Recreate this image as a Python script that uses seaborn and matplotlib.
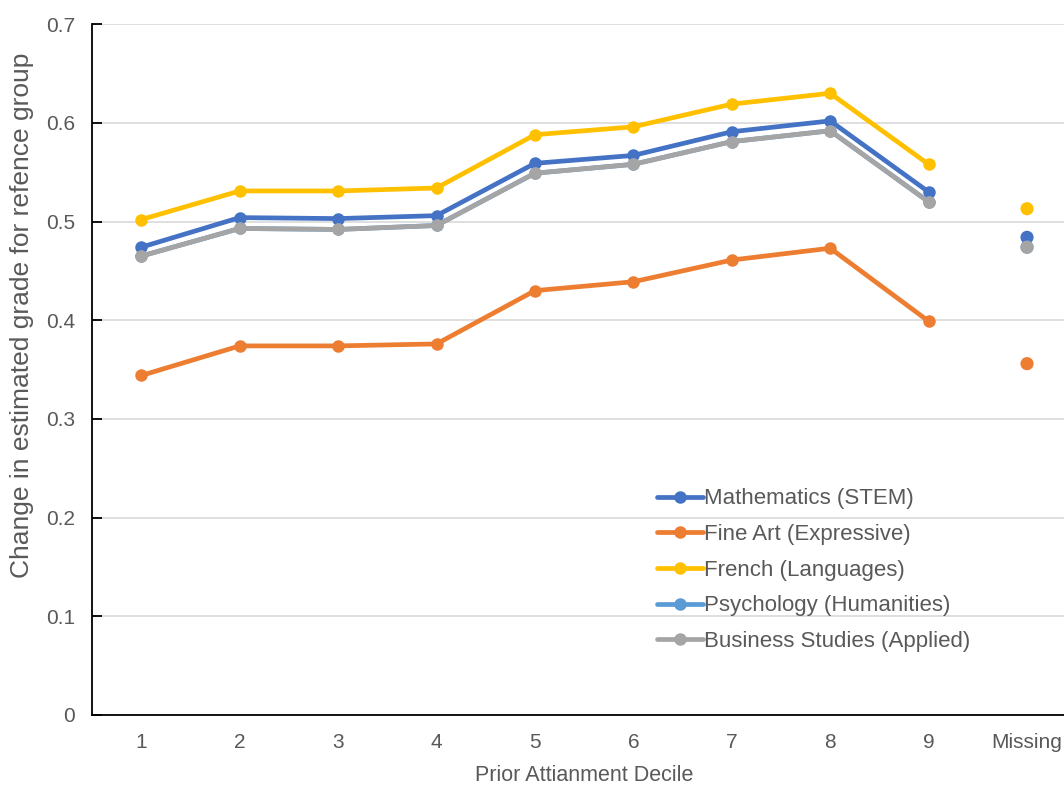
import pandas as pd
import numpy as np
import matplotlib
matplotlib.use("Agg")
import matplotlib.pyplot as plt
import seaborn as sns

deciles = ["1", "2", "3", "4", "5", "6", "7", "8", "9"]
subjects = ["Mathematics (STEM)", "Fine Art (Expressive)", "French (Languages)",
            "Psychology (Humanities)", "Business Studies (Applied)"]
maths = [0.474, 0.504, 0.503, 0.506, 0.559, 0.567, 0.591, 0.602, 0.530]
fine_art = [0.344, 0.374, 0.374, 0.376, 0.430, 0.439, 0.461, 0.473, 0.399]
french = [0.502, 0.531, 0.531, 0.534, 0.588, 0.596, 0.619, 0.630, 0.558]
psychology = [0.465, 0.493, 0.492, 0.496, 0.549, 0.558, 0.581, 0.592, 0.520]
business = [0.465, 0.493, 0.492, 0.496, 0.549, 0.558, 0.581, 0.592, 0.520]
missing = [0.484, 0.356, 0.513, 0.474, 0.474]
colors = ["#4472C4", "#ED7D31", "#FFC000", "#5B9BD5", "#A5A5A5"]

sns.set_style("white")
plt.rcParams['font.family'] = ['Liberation Sans', 'DejaVu Sans']

series = [maths, fine_art, french, psychology, business]
rows = []
for subj, vals in zip(subjects, series):
    for i, v in enumerate(vals):
        rows.append({"pos": i, "value": v, "subject": subj})
df = pd.DataFrame(rows)
miss = pd.DataFrame({"pos": [9] * len(subjects), "value": missing, "subject": subjects})

fig = plt.figure(figsize=(10.64, 7.85), dpi=100)
ax = fig.add_axes([0.0865, 0.0892, 0.925, 0.880])
pal = dict(zip(subjects, colors))

ax = sns.lineplot(data=df, x="pos", y="value", hue="subject", hue_order=subjects,
                  palette=pal, marker="o", markersize=9, markeredgewidth=0,
                  linewidth=3.4, ax=ax, legend=True)
sns.scatterplot(data=miss, x="pos", y="value", hue="subject", hue_order=subjects,
                palette=pal, s=90, linewidth=0, ax=ax, legend=False, zorder=3)

ax.set_xlim(-0.5, 9.5)
ax.set_ylim(0, 0.7)
ax.set_xticks(range(10))
ax.set_xticklabels(deciles + ["Missing"])
ax.set_xticks(np.arange(-0.5, 10, 1), minor=True)
ax.set_yticks(np.arange(0, 0.71, 0.1))
ax.set_yticklabels(["0", "0.1", "0.2", "0.3", "0.4", "0.5", "0.6", "0.7"])
ax.tick_params(axis="x", which="major", length=0, pad=13, labelsize=15, labelcolor="#595959")
ax.tick_params(axis="x", which="minor", direction="inout", length=9, width=1.3, color="black")
ax.tick_params(axis="y", direction="in", length=7, width=1.3, color="black",
               left=True, labelsize=15, labelcolor="#595959", pad=12)
ax.yaxis.grid(True, color="#D9D9D9", linewidth=1.2)
ax.set_axisbelow(True)
for s in ["top", "right"]:
    ax.spines[s].set_visible(False)
ax.spines["left"].set_color("black")
ax.spines["bottom"].set_color("black")
ax.spines["left"].set_linewidth(1.3)
ax.spines["bottom"].set_linewidth(1.3)

ax.set_xlabel("Prior Attianment Decile", fontsize=15.5, color="#595959", labelpad=9)
ax.set_ylabel("Change in estimated grade for refence group", fontsize=19, color="#595959")
ax.yaxis.set_label_coords(-0.059, 0.579)

leg = ax.legend(loc="upper left", bbox_to_anchor=(0.563, 0.344), frameon=False,
                fontsize=16, labelspacing=0.66, handlelength=2.05, handletextpad=0.05,
                borderpad=0)
for t in leg.get_texts():
    t.set_color("#595959")

fig.savefig("out.png", dpi=100)
